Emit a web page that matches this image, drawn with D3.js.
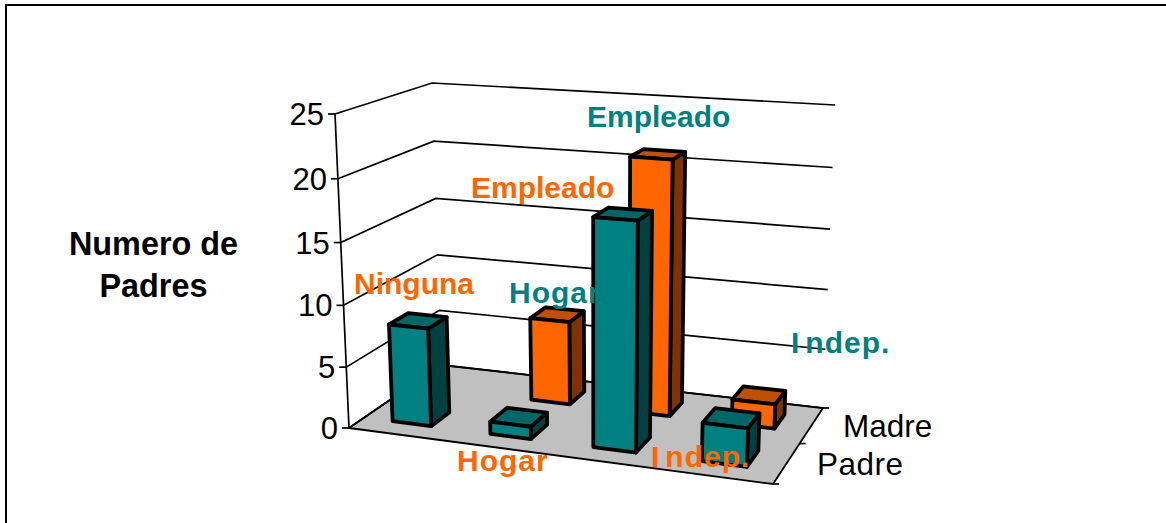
<!DOCTYPE html>
<html><head><meta charset="utf-8">
<script src="https://cdn.jsdelivr.net/npm/d3@7/dist/d3.min.js"></script>
<style>html,body{margin:0;padding:0;background:#fff}svg{display:block}text{font-family:"Liberation Sans",Arial,sans-serif}</style>
</head><body><svg id="c" width="1166" height="523"></svg>
<script>
const categories = ["Ninguna","Hogar","Empleado","Indep."];
const seriesNames = ["Madre","Padre"];
const padreValues = [8,1,18,3];
const madreValues = [0,7,21,2];
const valueTicks = [0,5,10,15,20,25];
const yTitle = ["Numero de","Padres"];
const palette = {Padre:{front:"#008080",side:"#004040",top:"#006666"},Madre:{front:"#FF6600",side:"#803300",top:"#C05000"}};

const svg = d3.select("#c");
svg.append("rect").attr("x",6).attr("y",5).attr("width",1175).attr("height",540).attr("fill","#fff").attr("stroke","#000").attr("stroke-width",2);

function homography(dst){
  const [[x0,y0],[x1,y1],[x2,y2],[x3,y3]]=dst;
  const dx1=x1-x2,dx2=x3-x2,sx=x0-x1+x2-x3,dy1=y1-y2,dy2=y3-y2,sy=y0-y1+y2-y3;
  const den=dx1*dy2-dx2*dy1;
  const g=(sx*dy2-dx2*sy)/den,h=(dx1*sy-sx*dy1)/den;
  const a=x1-x0+g*x1,b=x3-x0+h*x3,c=x0,d=y1-y0+g*y1,e=y3-y0+h*y3,f=y0;
  return (u,v)=>{const w=g*u+h*v+1;return [(a*u+b*v+c)/w,(d*u+e*v+f)/w];};
}
const floorH = homography([[349,428],[773,484],[823,408],[441,365]]);
const topH   = homography([[335,114],[785,143],[835,105],[432,83]]);
const h = d3.scaleLinear().domain([0,25]).range([0,1]);
const warp = t=>t/(1+0.04*(1-t));
const catBand = d3.scaleBand().domain(categories).range([0,1]).paddingInner(0.6).paddingOuter(0.3);
const serBand = d3.scaleBand().domain(["Padre","Madre"]).range([0,1]).paddingInner(0.6).paddingOuter(0.3);
const P = (u,v,val)=>{const a=floorH(u,v),b=topH(u,v),t=warp(h(val));return [a[0]+(b[0]-a[0])*t,a[1]+(b[1]-a[1])*t];};
const line = d3.line();
const poly = pts=>line(pts)+"Z";

svg.append("path").attr("d",poly([P(0,0,0),P(1,0,0),P(1,1,0),P(0,1,0)])).attr("fill","#C0C0C0").attr("stroke","#000").attr("stroke-width",1.8);
valueTicks.forEach(t=>{
  svg.append("path").attr("d",line([P(0,0,t),P(0,1,t),P(1,1,t)])).attr("fill","none").attr("stroke","#000").attr("stroke-width",1.7);
  const p=P(0,0,t);
  svg.append("line").attr("x1",p[0]-7).attr("y1",p[1]).attr("x2",p[0]).attr("y2",p[1]).attr("stroke","#000").attr("stroke-width",1.7);
  svg.append("text").attr("x",p[0]-11).attr("y",p[1]+11).attr("text-anchor","end").attr("font-size",31).text(t);
});
svg.append("path").attr("d",line([P(0,0,0),P(0,0,25)])).attr("fill","none").attr("stroke","#000").attr("stroke-width",1.7);
[0,.5,1].forEach(v=>{const p=P(1,v,0);svg.append("line").attr("x1",p[0]).attr("y1",p[1]).attr("x2",p[0]+6).attr("y2",p[1]).attr("stroke","#000").attr("stroke-width",1.7);});

function bar(cat,ser,val){
  if(!val) return;
  const u0=catBand(cat),u1=u0+catBand.bandwidth(),v0=serBand(ser),v1=v0+serBand.bandwidth(),c=palette[ser];
  const g=svg.append("g").attr("stroke","#000").attr("stroke-width",3.8).attr("stroke-linejoin","round");
  g.append("path").attr("d",poly([P(u1,v0,0),P(u1,v1,0),P(u1,v1,val),P(u1,v0,val)])).attr("fill",c.side);
  g.append("path").attr("d",poly([P(u0,v0,val),P(u1,v0,val),P(u1,v1,val),P(u0,v1,val)])).attr("fill",c.top);
  g.append("path").attr("d",poly([P(u0,v0,0),P(u1,v0,0),P(u1,v0,val),P(u0,v0,val)])).attr("fill",c.front);
}
categories.forEach((c,i)=>bar(c,"Madre",madreValues[i]));
categories.forEach((c,i)=>bar(c,"Padre",padreValues[i]));

[[843,437,0],[817,475,0.5]].forEach(([x,y,ls],i)=>svg.append("text").attr("x",x).attr("y",y).attr("letter-spacing",ls).attr("font-size",31.5).text(seriesNames[i]));
yTitle.forEach((t,i)=>svg.append("text").attr("x",153.5).attr("y",[255,297][i]).attr("text-anchor","middle").attr("font-weight","bold").attr("font-size",32.4).text(t));
const teal=palette.Padre.front, orange=palette.Madre.front;
const labelRows=[[0,354,294,orange,null],[1,457,471,orange,"0 1 1 1 1"],[2,471,198,orange,null],[3,651,467,orange,"0 6 1 1 1 1"],
 [1,509,303,teal,"0 1 1 1 1"],[2,587,127,teal,null],[3,791,353,teal,"0 6 1 1 1 1"]];
labelRows.forEach(([i,x,y,col,dx])=>svg.append("text").attr("x",x).attr("y",y).attr("dx",dx).attr("fill",col).attr("font-weight","bold").attr("font-size",30).text(categories[i]));
</script></body></html>
